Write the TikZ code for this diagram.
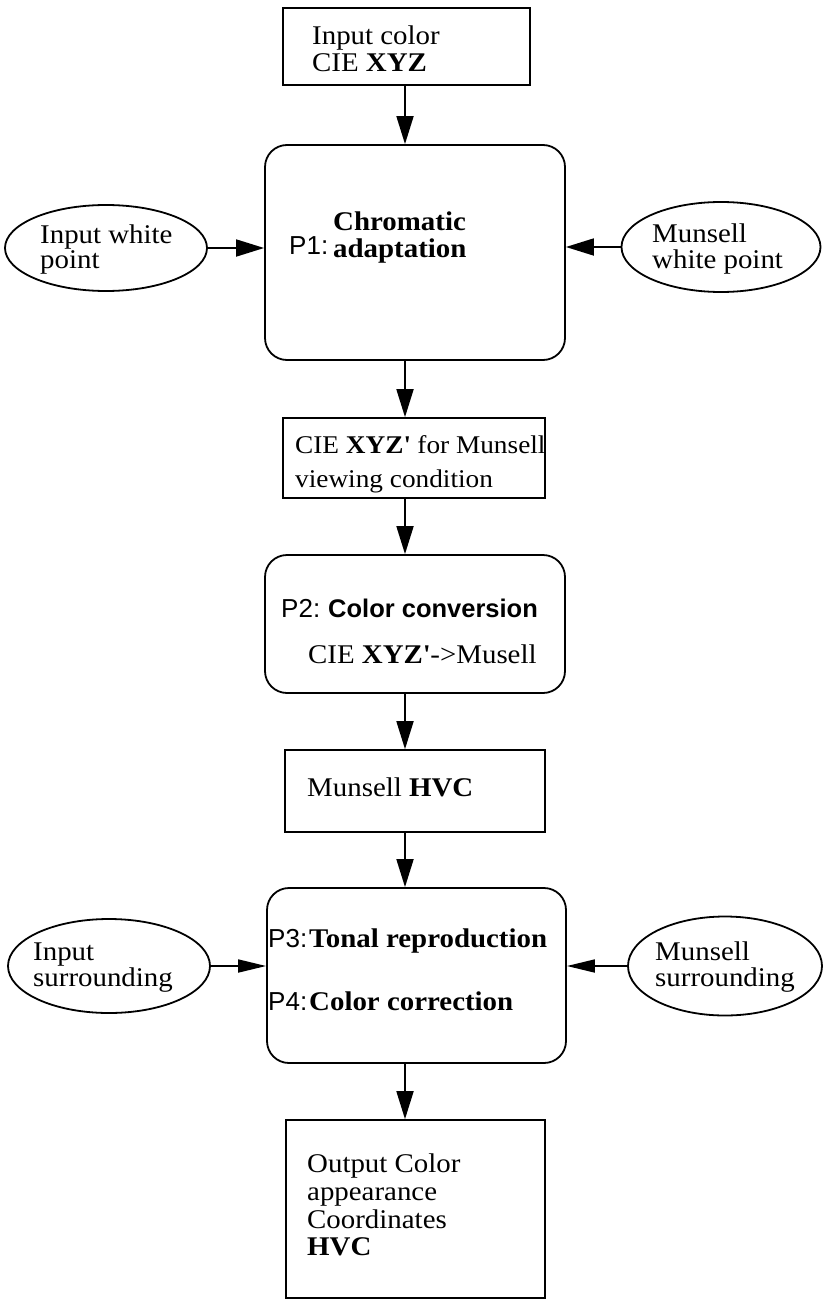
\documentclass[tikz,border=0pt]{standalone}
\usepackage{fontspec}
\setmainfont{Liberation Serif}[FakeStretch=1.07]
\newfontfamily\hv{Liberation Sans}
\usetikzlibrary{arrows.meta,shapes.geometric}
\begin{document}
\begin{tikzpicture}[x=1pt,y=-1pt,
  sbox/.style={draw,line width=1.7pt,inner sep=0pt},
  rbox/.style={draw,line width=1.8pt,rounded corners=22pt,inner sep=0pt},
  ell/.style={draw,ellipse,line width=1.8pt,inner sep=0pt},
  txt/.style={anchor=base west,inner sep=0pt,font=\fontsize{27}{28}\selectfont},
  stxt/.style={anchor=base west,inner sep=0pt,font=\hv\fontsize{26}{27}\selectfont},
  btxt/.style={anchor=base west,inner sep=0pt,font=\hv\bfseries\fontsize{25.5}{27}\selectfont},
  arr/.style={line width=1.8pt,-{Triangle[length=28pt,width=17pt]}},
  arrs/.style={line width=1.8pt,-{Triangle[length=28pt,width=13pt]}}]
\useasboundingbox (0,0) rectangle (823,1300);
% boxes
\node[sbox,minimum width=247pt,minimum height=77pt] (b1) at (406.5,46.5) {};
\node[rbox,minimum width=300pt,minimum height=215pt] (p1) at (415,252.5) {};
\node[ell,minimum width=202pt,minimum height=86pt] (e1) at (106,248) {};
\node[ell,minimum width=199pt,minimum height=90pt] (e2) at (721,247) {};
\node[sbox,minimum width=262pt,minimum height=80pt] (b2) at (414,458) {};
\node[rbox,minimum width=300pt,minimum height=138pt] (p2) at (415,624) {};
\node[sbox,minimum width=260pt,minimum height=82pt] (b3) at (415,791) {};
\node[rbox,minimum width=299pt,minimum height=175pt] (p3) at (416.5,975.5) {};
\node[ell,minimum width=202pt,minimum height=94pt] (e3) at (109,966) {};
\node[ell,minimum width=194pt,minimum height=99pt] (e4) at (725,966) {};
\node[sbox,minimum width=259pt,minimum height=178pt] (b4) at (415.5,1209) {};
% connectors
\coordinate (ax) at (405,0);
\draw[arr] (b1.south -| ax) -- (p1.north -| ax);
\draw[arr] (e1.east) -- (e1.east -| p1.west);
\draw[arr] (e2.west) -- (e2.west -| p1.east);
\draw[arr] (p1.south -| ax) -- (b2.north -| ax);
\draw[arr] (b2.south -| ax) -- (p2.north -| ax);
\draw[arr] (p2.south -| ax) -- (b3.north -| ax);
\draw[arr] (b3.south -| ax) -- (p3.north -| ax);
\draw[arrs] (e3.east) -- (e3.east -| p3.west);
\draw[arrs] (e4.west) -- (e4.west -| p3.east);
\draw[arr] (p3.south -| ax) -- (b4.north -| ax);
% texts
\node[txt] (t1a) at (312,45) {Input color};
\node[txt] (t1b) at (312,72) {CIE \textbf{XYZ}};
\node[stxt] (p1a) at (289,254) {P1:};
\node[txt] (p1b) at (333,230) {\textbf{Chromatic}};
\node[txt] (p1c) at (333,257) {\textbf{adaptation}};
\node[txt] (e1a) at (40,243) {Input white};
\node[txt] (e1b) at (40,268) {point};
\node[txt] (e2a) at (652,242) {Munsell};
\node[txt] (e2b) at (652,268) {white point};
\node[txt,font=\fontsize{25.5}{27}\selectfont] (b2a) at (295,453) {CIE \textbf{XYZ\textquotesingle} for Munsell};
\node[txt,font=\fontsize{25.5}{27}\selectfont] (b2b) at (295,487) {viewing condition};
\node[stxt] (p2a) at (281,617) {P2:};
\node[btxt] (p2b) at (328,617) {Color conversion};
\node[txt] (p2c) at (308,663) {CIE \textbf{XYZ\textquotesingle}->Musell};
\node[txt] (b3a) at (307,796) {Munsell \textbf{HVC}};
\node[stxt] (p3a) at (268,947) {P3:};
\node[txt] (p3b) at (309,947) {\textbf{Tonal reproduction}};
\node[stxt] (p4a) at (268,1010) {P4:};
\node[txt] (p4b) at (309,1010) {\textbf{Color correction}};
\node[txt] (e3a) at (33,960) {Input};
\node[txt] (e3b) at (33,986) {surrounding};
\node[txt] (e4a) at (655,960) {Munsell};
\node[txt] (e4b) at (655,986) {surrounding};
\node[txt] (b4a) at (307,1172) {Output Color};
\node[txt] (b4b) at (307,1200) {appearance};
\node[txt] (b4c) at (307,1228) {Coordinates};
\node[txt] (b4d) at (307,1255) {\textbf{HVC}};
\end{tikzpicture}
\end{document}
